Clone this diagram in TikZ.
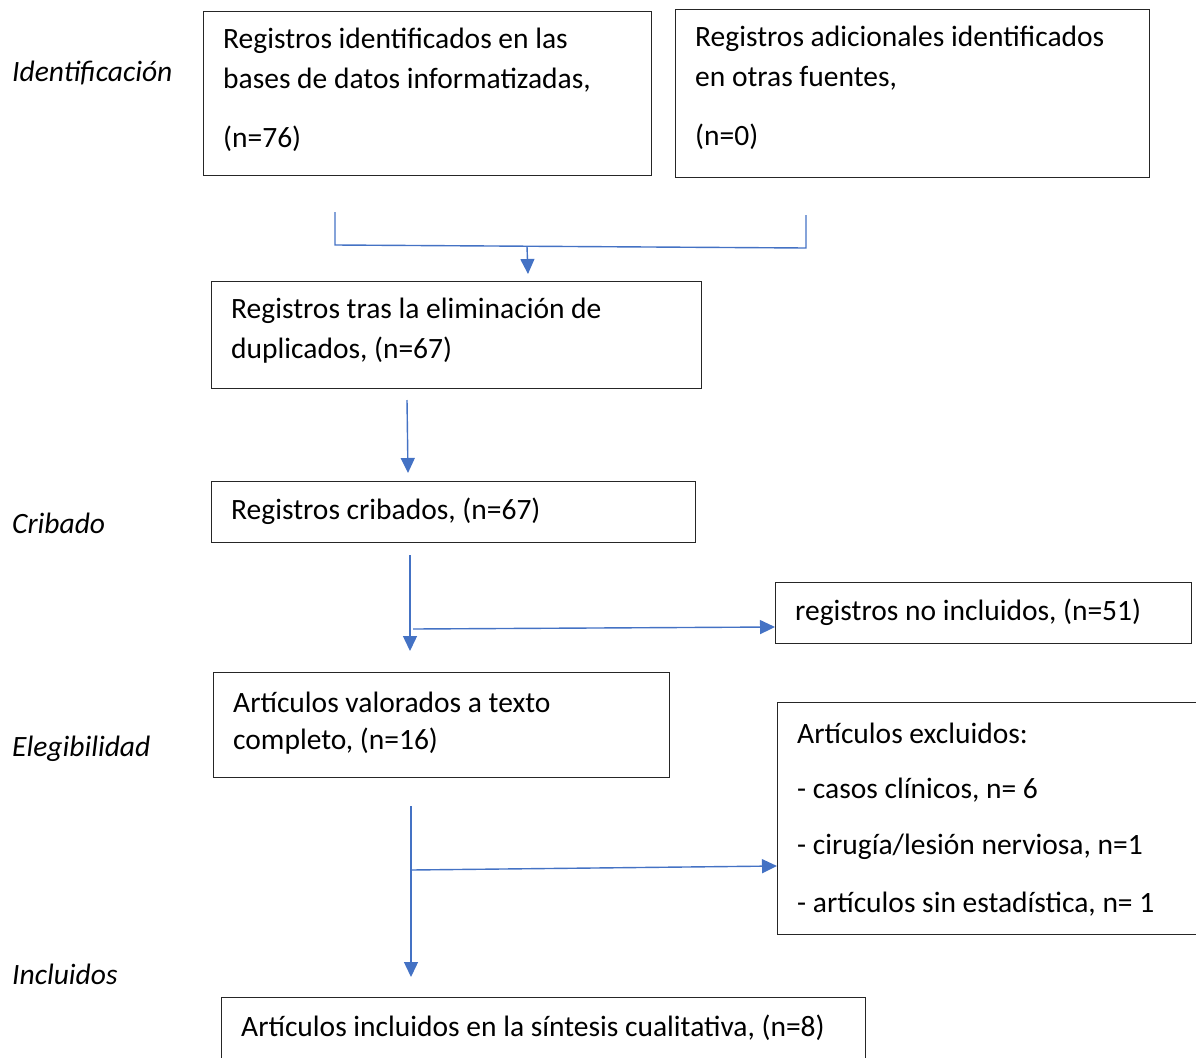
\documentclass[tikz,border=0pt]{standalone}
\usepackage{fontspec}
\setmainfont{Carlito}
\usetikzlibrary{arrows.meta}
\definecolor{lnblue}{HTML}{4472C4}
\tikzset{
  box/.style={draw=black!85, line width=1.3pt, rectangle, anchor=north west, inner sep=0pt},
  txt/.style={anchor=west, inner sep=0pt, font=\fontsize{29.5}{35}\selectfont},
  lab/.style={anchor=west, inner sep=0pt, font=\fontsize{29.5}{35}\selectfont\itshape},
  conn/.style={draw=lnblue, line width=1.4pt},
  arr/.style={conn, -{Triangle[width=14pt,length=15pt]}, shorten >=0pt}
}
\begin{document}
\begin{tikzpicture}[x=1pt,y=-1pt]
\useasboundingbox (0,0) rectangle (1196,1057);
\clip (0,0) rectangle (1196,1057);
% labels
\node[lab] (l1) at (12,73) {Identificación};
\node[lab] (l2) at (12,523) {Cribado};
\node[lab] (l3) at (12,749) {Elegibilidad};
\node[lab] (l4) at (12,974) {Incluidos};
% boxes
\node[box, minimum width=448pt, minimum height=164pt] (A) at (203,11) {};
\node[txt] (a1) at (223,41) {Registros identificados en las};
\node[txt] (a2) at (223,80) {bases de datos informatizadas,};
\node[txt] (a3) at (223,139) {(n=76)};
\node[box, minimum width=474pt, minimum height=168pt] (B) at (675,9) {};
\node[txt] (b1) at (695,39) {Registros adicionales identificados};
\node[txt] (b2) at (695,78) {en otras fuentes,};
\node[txt] (b3) at (695,137) {(n=0)};
\node[box, minimum width=490pt, minimum height=107pt] (C) at (211,281) {};
\node[txt] (c1) at (231,311) {Registros tras la eliminación de};
\node[txt] (c2) at (231,350) {duplicados, (n=67)};
\node[box, minimum width=484pt, minimum height=61pt] (D) at (211,481) {};
\node[txt] (d1) at (231,511) {Registros cribados, (n=67)};
\node[box, minimum width=416pt, minimum height=61pt] (E) at (775,582) {};
\node[txt] (e1) at (795,612) {registros no incluidos, (n=51)};
\node[box, minimum width=456pt, minimum height=105pt] (F) at (213,672) {};
\node[txt] (f1) at (233,702) {Artículos valorados a texto};
\node[txt] (f2) at (233,741) {completo, (n=16)};
\node[box, minimum width=430pt, minimum height=232pt] (G) at (777,702) {};
\node[txt] (g1) at (797,733) {Artículos excluidos:};
\node[txt] (g2) at (797,790) {- casos clínicos, n= 6};
\node[txt] (g3) at (797,847) {- cirugía/lesión nerviosa, n=1};
\node[txt] (g4) at (797,904) {- artículos sin estadística, n= 1};
\node[box, minimum width=644pt, minimum height=80pt] (H) at (221,997) {};
\node[txt] (h1) at (241,1028) {Artículos incluidos en la síntesis cualitativa, (n=8)};
% connectors
\coordinate (m1) at (335,212);
\coordinate (m2) at (335,245);
\coordinate (m3) at (806,248);
\coordinate (m4) at (806,215);
\coordinate (m5) at (527,246.5);
\coordinate (m6) at (528,274);
\draw[conn] (m1) -- (m2) -- (m3) -- (m4);
\draw[arr] (m5) -- (m6);
\coordinate (p1) at (407,400);
\coordinate (p2) at (408,473);
\draw[arr] (p1) -- (p2);
\coordinate (q1) at (410,555);
\coordinate (q2) at (410,651);
\draw[arr] (q1) -- (q2);
\coordinate (q3) at (413,629);
\draw[arr] (q3) -- (E.west |- 0,627);
\coordinate (r1) at (411,806);
\coordinate (r2) at (411,977);
\draw[arr] (r1) -- (r2);
\coordinate (r3) at (411,870);
\draw[arr] (r3) -- (G.west |- 0,866);
\end{tikzpicture}
\end{document}
